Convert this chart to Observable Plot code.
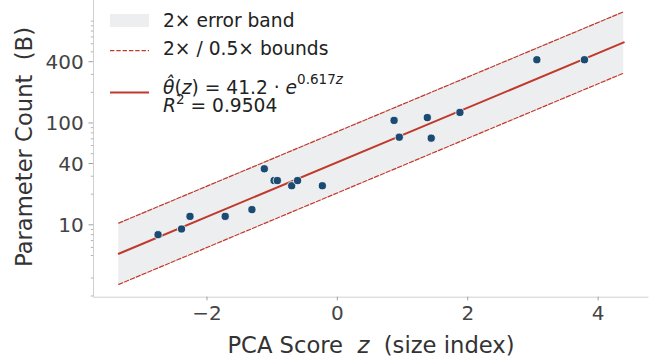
<!DOCTYPE html>
<html><head><meta charset="utf-8">
<script src="https://cdn.jsdelivr.net/npm/d3@7"></script>
<script src="https://cdn.jsdelivr.net/npm/@observablehq/plot@0.6"></script>
<style>
body{margin:0;background:#fff;}
#wrap{position:relative;width:656px;height:362px;font-family:"DejaVu Sans";}
#wrap svg{position:absolute;left:0;top:0;}
</style></head><body><div id="wrap"></div>
<script>
// ---- data ----
const zScore = [-2.75, -2.39, -2.26, -1.72, -1.31, -1.12, -0.97, -0.92, -0.70, -0.61, -0.23, 0.87, 0.95, 1.38, 1.44, 1.88, 3.06, 3.79];
const params = [8.0, 9.1, 12.1, 12.1, 14.1, 35.5, 27.2, 27.2, 24.2, 27.2, 24.2, 106, 72.5, 113, 71, 127, 418, 418];
const bandZ = [-3.353, 4.393];      // extent of fitted line / band
const fitVals = [5.20, 619];        // fitted θ̂ at the band ends
const bandFactor = [0.5, 2];        // 0.5× / 2× bounds
const xTicks = [-2, 0, 2, 4];
const yTicks = [10, 40, 100, 400];
const yMinor = [2,3,5,6,7,8,9,20,30,50,60,70,80,90,200,300,500,600,700,800,900,1000];
const xDomain = [-3.74, 4.78];
const yDomain = [1.946, 1596];

const points = zScore.map((z, i) => ({z, p: params[i]}));
const band = bandZ.map((z, i) => ({z, fit: fitVals[i], lo: fitVals[i]*bandFactor[0], hi: fitVals[i]*bandFactor[1]}));

const W = 656, H = 362, mL = 93, mR = 7.5, mT = 0, mB = 65.3;
const fw = W - mL - mR, fh = H - mT - mB;
const red = "#c0392b", tickCol = "#a0a0a0", labCol = "#444";
const fmt = d => d < 0 ? "\u2212" + Math.abs(d) : String(d);

const plot = Plot.plot({
  width: W, height: H,
  marginLeft: mL, marginRight: mR, marginTop: mT, marginBottom: mB,
  style: {background: "transparent", fontFamily: "DejaVu Sans", overflow: "visible"},
  x: {domain: xDomain, axis: null},
  y: {type: "log", domain: yDomain, axis: null},
  marks: [
    Plot.areaY(band, {x: "z", y1: "lo", y2: "hi", fill: "#eceef0"}),
    Plot.line(band, {x: "z", y: "hi", stroke: red, strokeWidth: 1.2, strokeDasharray: "4.4,1.9"}),
    Plot.line(band, {x: "z", y: "lo", stroke: red, strokeWidth: 1.2, strokeDasharray: "4.4,1.9"}),
    Plot.line(band, {x: "z", y: "fit", stroke: red, strokeWidth: 2}),
    Plot.dot(points, {x: "z", y: "p", r: 4.1, fill: "#1b4b72", stroke: "white", strokeWidth: 0.8}),
    // spines
    Plot.ruleX([xDomain[0]], {stroke: "#cfcfcf", strokeWidth: 1}),
    Plot.ruleY([yDomain[0]], {stroke: "#cfcfcf", strokeWidth: 1}),
    // x ticks + labels
    Plot.tickX(xTicks, {x: d => d, stroke: tickCol, insetTop: fh - 3.7, dy: 3.7}),
    Plot.text(xTicks, {x: d => d, text: fmt, frameAnchor: "bottom", lineAnchor: "top", dy: 8.7,
      fontSize: 20, fill: labCol}),
    // y ticks (major + minor) + labels
    Plot.tickY(yTicks, {y: d => d, stroke: tickCol, insetRight: fw - 4.5, dx: -4.5}),
    Plot.tickY(yMinor, {y: d => d, stroke: tickCol, insetRight: fw - 2.2, dx: -2.2, strokeWidth: 0.8}),
    Plot.text(yTicks, {y: d => d, text: d => String(d), frameAnchor: "left", textAnchor: "end",
      lineAnchor: "middle", dx: -9.7, dy: 0.9, fontSize: 20, fill: labCol})
  ]
});
document.getElementById("wrap").appendChild(plot);

// ---- legend and axis titles overlay ----
const ov = d3.select("#wrap").append("svg").attr("width", W).attr("height", H)
  .style("font-family", "DejaVu Sans").style("pointer-events", "none");

ov.append("rect").attr("x", 110).attr("y", 14).attr("width", 39).attr("height", 13).attr("fill", "#eceef0");
ov.append("line").attr("x1", 110).attr("x2", 149).attr("y1", 50.7).attr("y2", 50.7)
  .attr("stroke", red).attr("stroke-width", 1.2).attr("stroke-dasharray", "4.4,1.9");
ov.append("line").attr("x1", 110).attr("x2", 149).attr("y1", 92.5).attr("y2", 92.5)
  .attr("stroke", red).attr("stroke-width", 2);

const lt = (y) => ov.append("text").attr("x", 163).attr("y", y).attr("font-size", 18.67).attr("fill", "#222").style("white-space", "pre");
lt(27.3).text("2\u00d7 error band");
lt(55).text("2\u00d7 / 0.5\u00d7 bounds");
const t3 = lt(93.5);
t3.append("tspan").attr("font-style", "italic").text("\u03b8\u0302");
t3.append("tspan").text("(");
t3.append("tspan").attr("font-style", "italic").text("z");
t3.append("tspan").text(") = 41.2 \u00b7 ");
t3.append("tspan").attr("font-style", "italic").text("e");
t3.append("tspan").attr("font-size", 13.5).attr("dy", -10).text("0.617");
t3.append("tspan").attr("font-size", 13.5).attr("font-style", "italic").text("z");
const t4 = lt(111.5);
t4.append("tspan").attr("font-style", "italic").text("R");
t4.append("tspan").attr("font-size", 13.5).attr("dy", -8).text("2");
t4.append("tspan").attr("dy", 8).text(" = 0.9504");

// axis titles
ov.append("text").attr("transform", "translate(31.7,147) rotate(-90)").attr("text-anchor", "middle")
  .attr("font-size", 22.67).attr("fill", "#333").style("white-space", "pre").text("Parameter Count  (B)");
const xl = ov.append("text").attr("x", 371).attr("y", 353).attr("text-anchor", "middle")
  .attr("font-size", 22.67).attr("fill", "#333").style("white-space", "pre");
xl.append("tspan").text("PCA Score  ");
xl.append("tspan").attr("font-style", "italic").text("z");
xl.append("tspan").text("  (size index)");
</script></body></html>
